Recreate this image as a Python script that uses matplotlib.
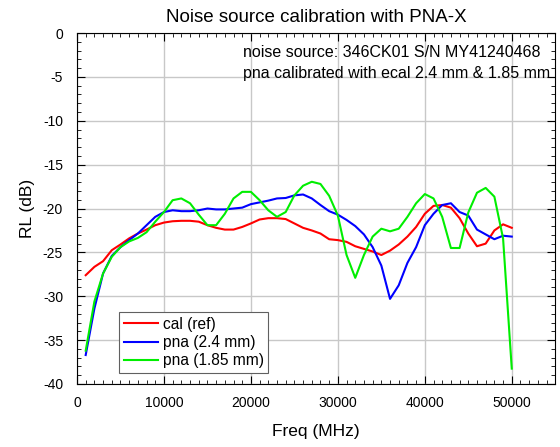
import matplotlib
matplotlib.use("Agg")
import matplotlib.pyplot as plt
from matplotlib.ticker import MultipleLocator

plt.rcParams['font.family'] = ['Liberation Sans', 'DejaVu Sans']
plt.rcParams['axes.unicode_minus'] = False

freq = [1000 * i for i in range(1, 51)]
cal_ref = [-27.6, -26.65, -26.0, -24.75, -24.1, -23.4, -22.85, -22.4, -21.9, -21.6,
           -21.45, -21.4, -21.4, -21.5, -21.9, -22.2, -22.4, -22.4, -22.1, -21.7,
           -21.25, -21.1, -21.1, -21.2, -21.7, -22.2, -22.5, -22.85, -23.5, -23.6,
           -23.8, -24.3, -24.6, -24.9, -25.3, -24.8, -24.1, -23.2, -22.1, -20.6,
           -19.7, -19.6, -19.9, -21.1, -22.85, -24.3, -24.0, -22.5, -21.8, -22.2]
pna_24 = [-36.7, -31.4, -27.4, -25.4, -24.4, -23.6, -22.85, -21.9, -20.95, -20.4,
          -20.2, -20.3, -20.3, -20.2, -20.0, -20.1, -20.1, -20.0, -19.9, -19.5,
          -19.3, -19.1, -18.85, -18.8, -18.5, -18.4, -18.85, -19.6, -20.3, -20.7,
          -21.3, -22.0, -22.95, -24.4, -26.5, -30.3, -28.75, -26.2, -24.4, -21.9,
          -20.6, -19.6, -19.4, -20.4, -20.8, -22.4, -22.95, -23.5, -23.1, -23.2]
pna_185 = [-36.2, -30.6, -27.4, -25.5, -24.4, -23.75, -23.35, -22.7, -21.5, -20.4,
           -19.05, -18.85, -19.4, -20.7, -21.9, -21.9, -20.6, -18.85, -18.1, -18.1,
           -19.05, -20.2, -20.95, -20.4, -18.5, -17.4, -16.95, -17.2, -18.55, -20.8,
           -25.3, -27.9, -25.3, -23.2, -22.3, -22.6, -22.3, -20.95, -19.4, -18.35,
           -18.85, -20.95, -24.5, -24.5, -20.45, -18.2, -17.65, -18.65, -23.4, -38.25]

fig = plt.figure(figsize=(5.6, 4.47), dpi=100)
ax = fig.add_axes([0.1375, 0.141, 0.854, 0.785])

ax.plot(freq, cal_ref, color='#ff0000', lw=1.5, label='cal (ref)')
ax.plot(freq, pna_24, color='#0000ff', lw=1.5, label='pna (2.4 mm)')
ax.plot(freq, pna_185, color='#00ee00', lw=1.5, label='pna (1.85 mm)')

ax.set_xlim(0, 55000)
ax.set_ylim(-40, 0)
ax.xaxis.set_major_locator(MultipleLocator(10000))
ax.xaxis.set_minor_locator(MultipleLocator(1000))
ax.yaxis.set_major_locator(MultipleLocator(5))
ax.yaxis.set_minor_locator(MultipleLocator(1))
ax.tick_params(which='both', direction='in', top=True, right=True, labelsize=10)
ax.tick_params(which='major', length=6)
ax.tick_params(which='minor', length=3)
ax.tick_params(axis='x', which='major', pad=9)
ax.tick_params(axis='y', which='major', pad=10)
ax.grid(True, which='major', color='#c8c8c8', lw=1)
ax.set_axisbelow(True)

ax.set_title('Noise source calibration with PNA-X', fontsize=13.5, pad=8)
ax.set_xlabel('Freq (MHz)', fontsize=12.5, labelpad=10)
ax.set_ylabel('RL (dB)', fontsize=12.5, labelpad=6)

ax.text(19100, -2.2, 'noise source: 346CK01 S/N MY41240468', fontsize=11.5, va='center', ha='left')
ax.text(19100, -4.6, 'pna calibrated with ecal 2.4 mm & 1.85 mm', fontsize=11.5, va='center', ha='left')

leg = ax.legend(loc='lower left', bbox_to_anchor=(0.088, 0.032), fontsize=11.2,
                frameon=True, fancybox=False, edgecolor='#606060', framealpha=1,
                handlelength=2.2, borderpad=0.3, labelspacing=0.2, handletextpad=0.3,
                borderaxespad=0)
leg.get_frame().set_linewidth(0.8)

fig.savefig('out.png', dpi=100)
